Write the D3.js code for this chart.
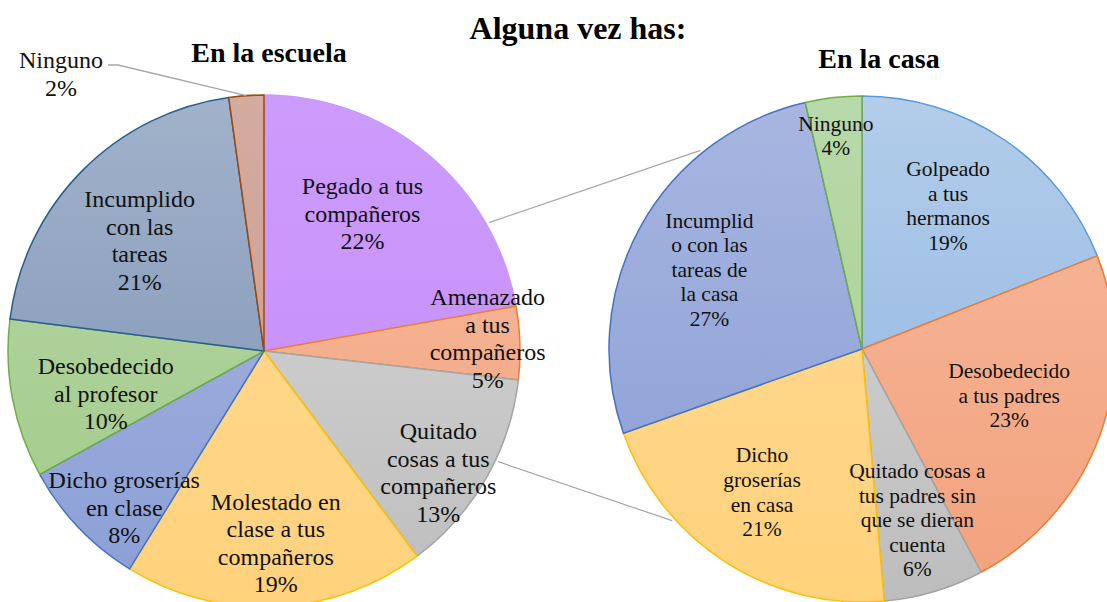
<!DOCTYPE html>
<html>
<head>
<meta charset="utf-8">
<script src="https://cdn.jsdelivr.net/npm/d3@7"></script>
<style>
  body { margin: 0; background: #fff; }
</style>
</head>
<body>
<div id="chart"></div>
<script>
// data (shares in %)
const schoolCategories = ["Pegado a tus\ncompañeros", "Amenazado\na tus\ncompañeros", "Quitado\ncosas a tus\ncompañeros",
  "Molestado en\nclase a tus\ncompañeros", "Dicho groserías\nen clase", "Desobedecido\nal profesor",
  "Incumplido\ncon las\ntareas", "Ninguno"];
const schoolValues = [22.2, 4.6, 13, 19, 8.2, 10, 20.8, 2.2];

const homeCategories = ["Golpeado\na tus\nhermanos", "Desobedecido\na tus padres",
  "Quitado cosas a\ntus padres sin\nque se dieran\ncuenta", "Dicho\ngroserías\nen casa",
  "Incumplid\no con las\ntareas de\nla casa", "Ninguno"];
const homeValues = [19, 23.2, 6.4, 21, 26.8, 3.6];

const mainTitle = "Alguna vez has:";
const schoolTitle = "En la escuela";
const homeTitle = "En la casa";

// colours: [top, bottom, border]
const schoolColors = [
  ["#cc9bfc", "#c68cf8", "#c99afa"],
  ["#f6bb9f", "#f3a37d", "#ed7d31"],
  ["#d9d9d9", "#bdbdbd", "#a5a5a5"],
  ["#ffdb98", "#ffd27c", "#ffc000"],
  ["#a8b6e0", "#8b9fd6", "#4472c4"],
  ["#b6d7a7", "#a2ca88", "#70ad47"],
  ["#a1b2ca", "#7a8fb2", "#255e91"],
  ["#d4ab9f", "#c9998c", "#9e480e"]
];
const homeColors = [
  ["#b3cdea", "#8bb2e1", "#5b9bd5"],
  ["#f6bb9f", "#f3a17c", "#ed7d31"],
  ["#d9d9d9", "#bdbdbd", "#a5a5a5"],
  ["#ffdb98", "#ffd27c", "#ffc000"],
  ["#a8b6e0", "#889dd5", "#4472c4"],
  ["#b8d9aa", "#a6cf8c", "#70ad47"]
];

var width = 1107, height = 602;
var serif = "Liberation Serif";

var svg = d3.select("#chart").append("svg")
  .attr("width", width)
  .attr("height", height)
  .style("display", "block");
var defs = svg.append("defs");

svg.append("text")
  .attr("x", 578).attr("y", 39)
  .attr("text-anchor", "middle")
  .attr("font-family", serif)
  .attr("font-size", 32).attr("font-weight", "bold")
  .text(mainTitle);

function drawPie(opts) {
  var total = d3.sum(opts.values);
  var pie = d3.pie().sort(null).value(d => d)(opts.values);
  var arc = d3.arc().innerRadius(0).outerRadius(opts.r);

  var g = svg.append("g").attr("transform", "translate(" + opts.cx + "," + opts.cy + ")");

  // vertical gradient over the whole pie, lighter on top
  opts.colors.forEach((c, i) => {
    var gr = defs.append("linearGradient")
      .attr("id", opts.id + "-g" + i)
      .attr("gradientUnits", "userSpaceOnUse")
      .attr("x1", 0).attr("x2", 0)
      .attr("y1", -opts.r).attr("y2", opts.r);
    gr.append("stop").attr("offset", "0%").attr("stop-color", c[0]);
    gr.append("stop").attr("offset", "100%").attr("stop-color", c[1]);
  });

  g.selectAll("path.slice")
    .data(pie)
    .enter().append("path")
    .attr("class", "slice")
    .attr("d", arc)
    .attr("fill", (d, i) => "url(#" + opts.id + "-g" + i + ")")
    .attr("stroke", (d, i) => opts.colors[i][2])
    .attr("stroke-width", 1.5)
    .attr("stroke-linejoin", "round");

  pie.forEach((d, i) => {
    var lines = opts.categories[i].split("\n").concat([Math.round(d.value / total * 100) + "%"]);
    var mid = (d.startAngle + d.endAngle) / 2;
    var x, y;
    if (opts.labelPos[i] == null) {
      // outside label with leader line
      x = opts.outside.dx; y = opts.outside.dy;
      var px = Math.sin(mid) * opts.r, py = -Math.cos(mid) * opts.r;
      g.append("polyline")
        .attr("points", [[x + 47, y - 9], [x + 57, y - 9], [px, py]].map(p => p.join(",")).join(" "))
        .attr("fill", "none").attr("stroke", "#a6a6a6").attr("stroke-width", 1.3);
    } else {
      var a = mid + opts.labelPos[i][1] * Math.PI / 180;
      x = Math.sin(a) * opts.r * opts.labelPos[i][0];
      y = -Math.cos(a) * opts.r * opts.labelPos[i][0];
    }
    var t = g.append("text")
      .attr("text-anchor", "middle")
      .attr("font-family", serif)
      .attr("font-size", opts.fontSize)
      .attr("fill", "#111");
    lines.forEach((ln, j) => {
      t.append("tspan")
        .attr("x", x)
        .attr("y", y + (j - (lines.length - 1) / 2) * opts.lineH + opts.fontSize * 0.34)
        .text(ln);
    });
  });

  svg.append("text")
    .attr("x", opts.titleX).attr("y", opts.titleY)
    .attr("text-anchor", "middle")
    .attr("font-family", serif)
    .attr("font-size", 28).attr("font-weight", "bold")
    .text(opts.title);

  return g;
}

// label placement: [fraction of radius, angle nudge in degrees]
var left = {
  id: "school", cx: 264, cy: 351, r: 256,
  values: schoolValues, categories: schoolCategories, colors: schoolColors,
  fontSize: 24, lineH: 27.5,
  labelPos: [[0.66, -4.3], [0.875, -1.5], [0.83, 5], [0.75, -1], [0.82, -4.7], [0.64, -4.2], [0.65, -3], null],
  outside: { dx: -203, dy: -277 },
  title: schoolTitle, titleX: 269, titleY: 62
};
var right = {
  id: "home", cx: 862, cy: 349, r: 253,
  values: homeValues, categories: homeCategories, colors: homeColors,
  fontSize: 21.5, lineH: 24.6,
  labelPos: [[0.66, -3.2], [0.61, -2.6], [0.71, -1.4], [0.69, 2.2], [0.68, -1.3], [0.85, -0.5]],
  title: homeTitle, titleX: 879, titleY: 68
};

drawPie(left);
drawPie(right);

// connector lines between the two pies
function onRim(p, deg) {
  var a = deg * Math.PI / 180;
  return [p.cx + Math.sin(a) * (p.r + 3), p.cy - Math.cos(a) * (p.r + 3)];
}
[[60.3, 320.9], [115.3, 227.9]].forEach(pair => {
  var a = onRim(left, pair[0]), b = onRim(right, pair[1]);
  svg.append("line")
    .attr("x1", a[0]).attr("y1", a[1])
    .attr("x2", b[0]).attr("y2", b[1])
    .attr("stroke", "#a6a6a6").attr("stroke-width", 1.2);
});
</script>
</body>
</html>
